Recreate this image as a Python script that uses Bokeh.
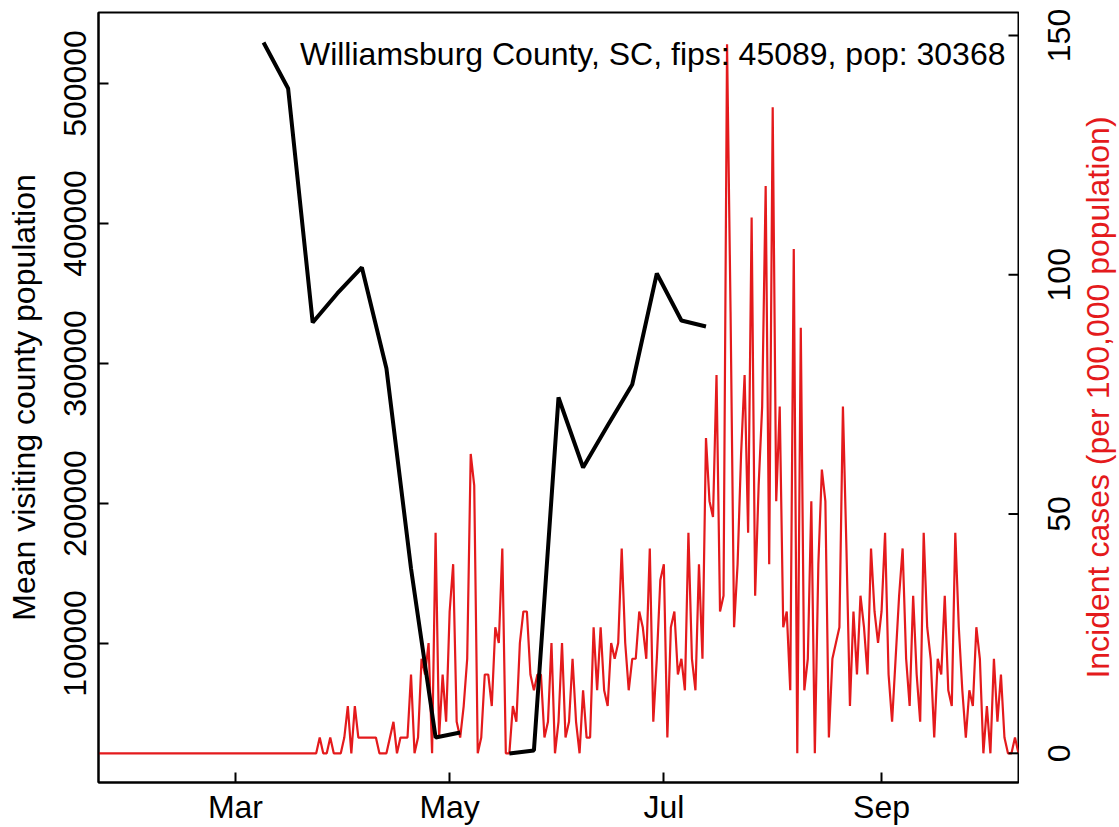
import pandas as pd
from bokeh.plotting import figure
from bokeh.layouts import row
from bokeh.models import Range1d, LinearAxis, FixedTicker, Label
from bokeh.embed import file_html
from bokeh.resources import INLINE

# ---------------- data ----------------
COUNTY = "Williamsburg County, SC"
FIPS = 45089
POP = 30368

case_start = "2020-01-22"
# daily incident case counts, from 2020-01-22 onwards
daily_cases = (
    [0] * 63
    + [1, 0, 0, 1, 0, 0, 0, 1, 3, 0, 3, 1, 1, 1, 1, 1, 1, 0, 0, 0,
       1, 2, 0, 1, 1, 1, 5, 0, 1, 6, 5, 7, 0, 14]
    + [1, 5, 2, 9, 12, 2, 1, 3, 6, 19, 17, 0, 1, 5, 5, 3, 8, 7, 13, 0,
       0, 3, 2, 7, 9, 9, 5, 4, 5, 5, 1, 2, 7, 0, 2, 7, 1, 2, 6, 2,
       0, 4, 1, 1, 8, 4, 8, 4, 3, 7, 6, 7, 13, 7, 4, 6, 6, 9, 8, 6,
       13, 2, 6, 11, 12, 1, 8, 9, 5, 6, 4, 14, 6, 4, 12]
    + [6, 20, 16, 15, 24, 9, 10, 45, 28, 8, 12, 19, 24, 14, 34, 10, 17, 22, 36, 12,
       41, 16, 22, 8, 9, 4, 32, 0, 27, 4, 6, 16, 0, 12, 18, 16, 1, 6, 7, 8]
    + [22, 13, 3, 9, 5, 10, 8, 5, 13, 9, 7, 9, 14, 5, 2, 6, 10, 13, 6, 3,
       10, 5, 2, 14, 8, 6, 1, 6, 5, 10, 4, 3, 14, 8, 4, 1, 4, 3, 8, 6,
       0, 3, 0, 6, 2, 5, 1, 0, 0, 1, 0]
)

visit_dates = ["2020-03-09", "2020-03-16", "2020-03-23", "2020-03-30", "2020-04-06",
               "2020-04-13", "2020-04-20", "2020-04-27", "2020-05-04", "2020-05-11",
               "2020-05-18", "2020-05-25", "2020-06-01", "2020-06-08", "2020-06-15",
               "2020-06-22", "2020-06-29", "2020-07-06", "2020-07-13"]
visit_pop = [529300, 496400, 329300, 350000, 368600,
             296400, 153600, 32900, 36400, None,
             21400, 23600, 275700, 225700, 255700,
             285000, 364300, 330700, 326400]

tick_dates = ["2020-03-01", "2020-05-01", "2020-07-01", "2020-09-01"]
tick_labels = ["Mar", "May", "Jul", "Sep"]
left_ticks = [100000, 200000, 300000, 400000, 500000]
right_ticks = [0, 50, 100, 150]

x_start, x_end = "2020-01-22", "2020-10-10"
left_lim = (700, 550700)
right_lim = (-6.1, 154.8)

# ---------------- derived ----------------
def doy(s):
    return float(pd.Timestamp(s).dayofyear)

case_x = [doy(case_start) + i for i in range(len(daily_cases))]
case_rate = [c * 100000.0 / POP for c in daily_cases]
visit_x = [doy(d) for d in visit_dates]
visit_y = [float("nan") if v is None else v for v in visit_pop]

FONT = "Liberation Sans"
FS = "32px"
RED = "#e41a1c"
TICK_LEN = 10

W, H = 1119, 827
W1 = 1019                      # main figure (frame right edge at 1018)
BL, BR, BT, BB = 98, 1, 12, 45
x0, x1 = doy(x_start), doy(x_end)
px_per_day = (W1 - BL - BR) / (x1 - x0)
px_per_left = (H - BT - BB) / (left_lim[1] - left_lim[0])

def px_to_x(px):
    return x0 + (px - BL) / px_per_day

def py_to_y(py):
    return left_lim[0] + (H - BB - py) / px_per_left

p = figure(width=W1, height=H, output_backend="svg", toolbar_location=None,
           x_range=Range1d(x0, x1), y_range=Range1d(*left_lim),
           min_border_left=BL, min_border_right=BR, min_border_top=BT, min_border_bottom=BB,
           background_fill_color="white", border_fill_color="white")
p.grid.visible = False
p.outline_line_color = "black"
p.outline_line_width = 2

p.extra_y_ranges = {"cases": Range1d(*right_lim)}

p.line(case_x, case_rate, line_color=RED, line_width=2.2, y_range_name="cases")
p.line(visit_x, visit_y, line_color="black", line_width=4)

# inward tick marks on the right edge of the frame (case axis)
p.segment(x0=[x1 - TICK_LEN / px_per_day] * len(right_ticks), y0=right_ticks,
          x1=[x1] * len(right_ticks), y1=right_ticks,
          line_color="black", line_width=2, y_range_name="cases")

def style_axis(ax):
    ax.major_tick_in = TICK_LEN
    ax.major_tick_out = 0
    ax.minor_tick_in = 0
    ax.minor_tick_out = 0
    ax.major_tick_line_width = 2
    ax.axis_line_width = 2
    ax.major_label_text_font = FONT
    ax.major_label_text_font_size = FS
    ax.major_label_text_color = "black"
    ax.axis_label_text_font = FONT
    ax.axis_label_text_font_size = FS
    ax.axis_label_text_font_style = "normal"

xa = p.xaxis[0]
xa.ticker = FixedTicker(ticks=[doy(d) for d in tick_dates])
xa.major_label_overrides = {doy(d): l for d, l in zip(tick_dates, tick_labels)}
style_axis(xa)
xa.major_label_standoff = 6

ya = p.yaxis[0]
ya.ticker = FixedTicker(ticks=left_ticks)
ya.major_label_overrides = {v: str(v) for v in left_ticks}
style_axis(ya)
ya.major_label_orientation = "vertical"
ya.major_label_standoff = 12
ya.axis_label = "Mean visiting county population"
ya.axis_label_text_color = "black"
ya.axis_label_standoff = 20

title = Label(x=px_to_x(1005), y=py_to_y(53),
              text=f"{COUNTY}, fips: {FIPS}, pop: {POP}",
              text_align="right", text_baseline="middle",
              text_font=FONT, text_font_size=FS, text_color="black")
p.add_layout(title)

# ---------------- right side panel: labels for the case axis ----------------
W2 = W - W1
p2 = figure(width=W2, height=H, output_backend="svg", toolbar_location=None,
            x_range=Range1d(0, 1), y_range=Range1d(*right_lim),
            x_axis_location=None,
            min_border_left=W2 - 4, min_border_right=0, min_border_top=BT, min_border_bottom=BB,
            background_fill_color=None, border_fill_color="white")
p2.grid.visible = False
p2.outline_line_color = None

lab_ax = p2.yaxis[0]
lab_ax.ticker = FixedTicker(ticks=[])
lab_ax.axis_line_color = None
lab_ax.major_tick_line_color = None
lab_ax.minor_tick_line_color = None
lab_ax.major_label_standoff = 0
lab_ax.axis_label = "Incident cases (per 100,000 population)"
lab_ax.axis_label_text_font = FONT
lab_ax.axis_label_text_font_size = FS
lab_ax.axis_label_text_font_style = "normal"
lab_ax.axis_label_text_color = RED
lab_ax.axis_label_standoff = 0

num_ax = LinearAxis(ticker=FixedTicker(ticks=right_ticks))
num_ax.major_label_overrides = {v: str(v) for v in right_ticks}
num_ax.axis_line_color = None
num_ax.major_tick_line_color = None
num_ax.minor_tick_line_color = None
num_ax.major_label_orientation = "vertical"
num_ax.major_label_text_font = FONT
num_ax.major_label_text_font_size = FS
num_ax.major_label_text_color = "black"
num_ax.major_label_standoff = 0
p2.add_layout(num_ax, "left")

layout = row(p, p2, spacing=0)
open("out.html", "w").write(file_html(layout, INLINE))
